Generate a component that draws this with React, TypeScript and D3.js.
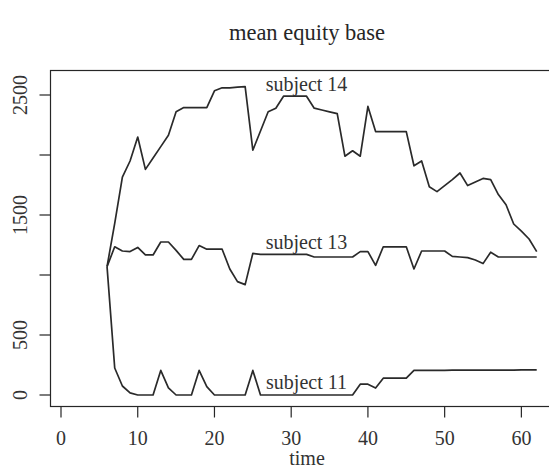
import React from "react";
import * as d3 from "d3";

// Observation times
const times: number[] = d3.range(6, 63);

// Mean equity base per subject, one value per time point (t = 6 … 62)
const subject14: number[] = [
  1070, 1430, 1815, 1950, 2150, 1880, 1975, 2070, 2165, 2360,
  2395, 2395, 2395, 2395, 2535, 2560, 2560, 2565, 2570, 2040,
  2200, 2360, 2390, 2490, 2490, 2490, 2490, 2390, 2375, 2360,
  2345, 1990, 2035, 1990, 2405, 2195, 2195, 2195, 2195, 2195,
  1910, 1950, 1735, 1695, 1745, 1795, 1850, 1745, 1775, 1805,
  1795, 1670, 1585, 1425, 1365, 1300, 1195,
];
const subject13: number[] = [
  1070, 1235, 1200, 1195, 1230, 1167, 1167, 1275, 1275, 1205,
  1130, 1130, 1245, 1215, 1215, 1215, 1050, 945, 920, 1180,
  1172, 1172, 1172, 1172, 1172, 1172, 1172, 1150, 1150, 1150,
  1150, 1150, 1150, 1195, 1195, 1080, 1235, 1235, 1235, 1235,
  1050, 1200, 1200, 1200, 1200, 1155, 1150, 1145, 1125, 1095,
  1190, 1150, 1150, 1150, 1150, 1150, 1150,
];
const subject11: number[] = [
  1070, 225, 75, 18, 0, 0, 0, 205, 60, 0,
  0, 0, 205, 70, 0, 0, 0, 0, 0, 205,
  0, 0, 0, 0, 0, 0, 0, 0, 0, 0,
  0, 0, 0, 90, 90, 58, 140, 140, 140, 140,
  205, 206, 206, 206, 206, 207, 207, 207, 207, 207,
  208, 208, 208, 208, 209, 209, 210,
];

const seriesNames: string[] = ["subject 14", "subject 13", "subject 11"];
const seriesValues: number[][] = [subject14, subject13, subject11];

// Axis ticks
const xTicks: number[] = [0, 10, 20, 30, 40, 50, 60];
const yTicks: number[] = [0, 500, 1000, 1500, 2000, 2500];
const yTickLabels: number[] = [0, 500, 1500, 2500];

// Annotation placement (time, offset above the series)
const labelTime = 32;
const labelOffset = 100;

const W = 549;
const H = 468;
const FONT = "'Liberation Serif', 'Times New Roman', Times, serif";
const INK = "#262626";

export default function App() {
  const x = d3.scaleLinear().domain([0, 60]).range([61, 61 + 60 * 7.673]);
  const y = d3.scaleLinear().domain([0, 2500]).range([395, 95]);

  const box = { left: 50.5, right: 563, top: 70.5, bottom: 406.5 };

  const line = d3
    .line<number>()
    .x((_, i) => x(times[i]))
    .y((d) => y(d));

  return (
    <svg
      width={W}
      height={H}
      style={{ position: "absolute", left: 0, top: 0, background: "#fff" }}
      fontFamily={FONT}
    >
      <rect x={0} y={0} width={W} height={H} fill="#fff" />
      {/* title */}
      <text x={307} y={40} textAnchor="middle" fontSize={22.5} fill={INK}>
        mean equity base
      </text>

      {/* series */}
      <g fill="none" stroke="#2a2a2a" strokeWidth={1.7} strokeLinejoin="round">
        {seriesValues.map((vals, k) => (
          <path key={k} d={line(vals) || ""} />
        ))}
      </g>

      {/* series annotations */}
      {seriesValues.map((vals, k) => {
        const i = times.indexOf(labelTime);
        return (
          <text
            key={k}
            x={x(labelTime)}
            y={y(vals[i] + labelOffset)}
            dy="0.32em"
            textAnchor="middle"
            fontSize={20}
            fill="#333"
          >
            {seriesNames[k]}
          </text>
        );
      })}

      {/* plot frame */}
      <rect
        x={box.left}
        y={box.top}
        width={box.right - box.left}
        height={box.bottom - box.top}
        fill="none"
        stroke={INK}
        strokeWidth={1.2}
      />

      {/* x axis */}
      <g stroke={INK} strokeWidth={1.2}>
        {xTicks.map((t) => (
          <line key={t} x1={x(t)} x2={x(t)} y1={box.bottom} y2={box.bottom + 11} />
        ))}
      </g>
      <g fontSize={20} fill="#333" textAnchor="middle">
        {xTicks.map((t) => (
          <text key={t} x={x(t)} y={445}>
            {t}
          </text>
        ))}
        <text x={307} y={465}>
          time
        </text>
      </g>

      {/* y axis */}
      <g stroke={INK} strokeWidth={1.2}>
        {yTicks.map((v) => (
          <line key={v} x1={box.left - 11} x2={box.left} y1={y(v)} y2={y(v)} />
        ))}
      </g>
      <g fontSize={20} fill="#333" textAnchor="middle">
        {yTickLabels.map((v) => (
          <text key={v} transform={`translate(27,${y(v)}) rotate(-90)`}>
            {v}
          </text>
        ))}
      </g>
    </svg>
  );
}
